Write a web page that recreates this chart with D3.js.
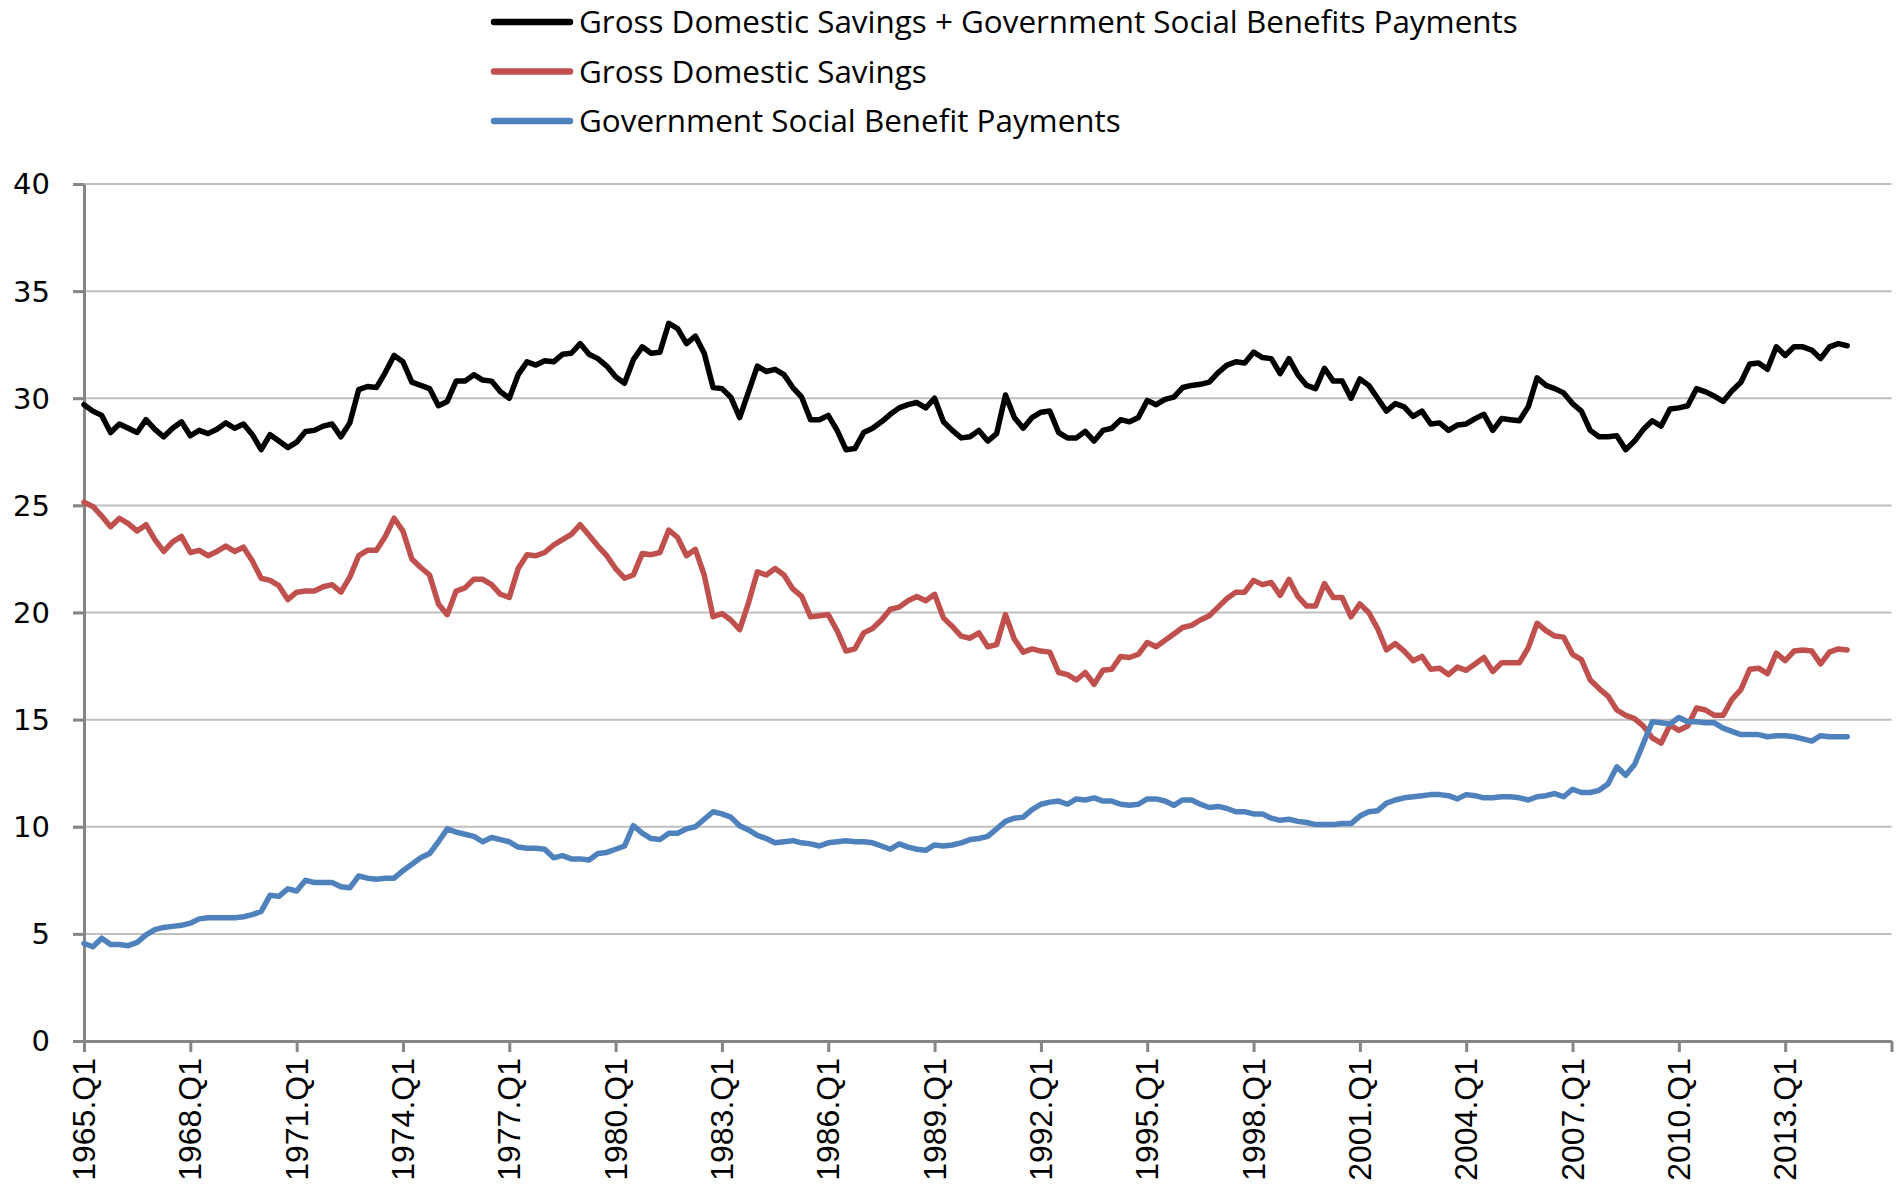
<!DOCTYPE html>
<html lang="en">
<head>
<meta charset="utf-8">
<style>
    body { margin: 0; background: #fff; }
    .grid line { stroke: #bfbfbf; stroke-width: 2; }
    .axis path, .axis line { stroke: #868686; stroke-width: 3; }
    .ylab { font: 29px "DejaVu Sans", sans-serif; fill: #000; }
    .xlab { font: 32px "Liberation Sans", Arial, sans-serif; fill: #000; }
    .legend text { font: 31.4px "Open Sans", sans-serif; fill: #000; }
    .series { fill: none; stroke-width: 5.5; stroke-linejoin: round; stroke-linecap: round; }
</style>
</head>
<body>
<svg width="1900" height="1191"></svg>
<script src="https://d3js.org/d3.v7.min.js"></script>
<script>

// quarterly values, 1965.Q1 .. 2014.Q4 (index 0 = 1965.Q1)
var combined = [
    29.7, 29.4, 29.2, 28.4, 28.8, 28.6, 28.4, 29.0, 28.55, 28.2, 28.6, 28.9,
    28.25, 28.5, 28.35, 28.55, 28.85, 28.6, 28.8, 28.3, 27.6, 28.3, 28.0, 27.7,
    27.95, 28.45, 28.5, 28.7, 28.8, 28.2, 28.85, 30.4, 30.55, 30.5, 31.2, 32.0,
    31.7, 30.75, 30.6, 30.45, 29.65, 29.85, 30.8, 30.8, 31.1, 30.85, 30.8, 30.3,
    30.0, 31.1, 31.7, 31.55, 31.75, 31.7, 32.05, 32.1, 32.55, 32.05, 31.85, 31.5,
    31.0, 30.7, 31.8, 32.4, 32.1, 32.15, 33.5, 33.25, 32.55, 32.9, 32.1, 30.5,
    30.45, 30.05, 29.1, 30.3, 31.5, 31.25, 31.35, 31.1, 30.5, 30.05, 29.0, 29.0,
    29.2, 28.5, 27.6, 27.65, 28.4, 28.6, 28.9, 29.25, 29.55, 29.7, 29.8, 29.55,
    30.0, 28.9, 28.5, 28.15, 28.2, 28.5, 28.0, 28.35, 30.15, 29.1, 28.6, 29.1,
    29.35, 29.4, 28.4, 28.15, 28.15, 28.45, 28.0, 28.5, 28.6, 29.0, 28.9, 29.1,
    29.9, 29.7, 29.95, 30.05, 30.5, 30.6, 30.65, 30.75, 31.2, 31.55, 31.7, 31.65,
    32.15, 31.9, 31.85, 31.15, 31.85, 31.1, 30.6, 30.45, 31.4, 30.8, 30.8, 30.0,
    30.9, 30.6, 30.0, 29.4, 29.75, 29.6, 29.15, 29.4, 28.8, 28.85, 28.5, 28.75,
    28.8, 29.05, 29.25, 28.5, 29.05, 29.0, 28.95, 29.6, 30.95, 30.6, 30.45, 30.25,
    29.75, 29.4, 28.5, 28.2, 28.2, 28.25, 27.6, 28.0, 28.55, 28.95, 28.7, 29.5,
    29.55, 29.65, 30.45, 30.3, 30.1, 29.85, 30.35, 30.75, 31.6, 31.65, 31.35, 32.4,
    32.0, 32.4, 32.4, 32.25, 31.85, 32.4, 32.55, 32.45
];

var savings = [
    25.15, 24.95, 24.5, 24.0, 24.4, 24.15, 23.8, 24.1, 23.4, 22.85, 23.3, 23.55,
    22.8, 22.9, 22.65, 22.85, 23.1, 22.85, 23.05, 22.4, 21.6, 21.5, 21.25, 20.6,
    20.95, 21.0, 21.0, 21.2, 21.3, 20.95, 21.65, 22.65, 22.9, 22.9, 23.55, 24.4,
    23.8, 22.5, 22.1, 21.75, 20.4, 19.9, 21.0, 21.15, 21.55, 21.55, 21.3, 20.85,
    20.7, 22.05, 22.7, 22.65, 22.8, 23.15, 23.4, 23.65, 24.1, 23.6, 23.1, 22.65,
    22.05, 21.6, 21.75, 22.75, 22.7, 22.8, 23.85, 23.5, 22.65, 22.95, 21.75, 19.8,
    19.95, 19.65, 19.2, 20.45, 21.9, 21.75, 22.05, 21.75, 21.1, 20.75, 19.8, 19.85,
    19.9, 19.15, 18.2, 18.3, 19.05, 19.25, 19.65, 20.15, 20.25, 20.55, 20.75, 20.55,
    20.85, 19.75, 19.35, 18.9, 18.8, 19.05, 18.4, 18.5, 19.9, 18.75, 18.15, 18.3,
    18.2, 18.15, 17.2, 17.1, 16.85, 17.2, 16.65, 17.3, 17.35, 17.95, 17.9, 18.05,
    18.6, 18.4, 18.7, 19.0, 19.3, 19.4, 19.65, 19.85, 20.25, 20.65, 20.95, 20.95,
    21.5, 21.3, 21.4, 20.8, 21.55, 20.75, 20.3, 20.3, 21.35, 20.7, 20.7, 19.8,
    20.4, 20.0, 19.25, 18.25, 18.55, 18.2, 17.75, 17.95, 17.35, 17.4, 17.1, 17.45,
    17.3, 17.6, 17.9, 17.25, 17.65, 17.65, 17.65, 18.35, 19.5, 19.15, 18.9, 18.85,
    18.05, 17.8, 16.85, 16.45, 16.1, 15.45, 15.2, 15.05, 14.7, 14.15, 13.9, 14.75,
    14.5, 14.7, 15.55, 15.45, 15.2, 15.2, 15.95, 16.4, 17.35, 17.4, 17.15, 18.1,
    17.75, 18.2, 18.25, 18.2, 17.6, 18.15, 18.3, 18.25
];

var benefits = [
    4.55, 4.4, 4.8, 4.5, 4.5, 4.45, 4.6, 4.95, 5.2, 5.3, 5.35, 5.4,
    5.5, 5.7, 5.75, 5.75, 5.75, 5.75, 5.8, 5.9, 6.05, 6.8, 6.75, 7.1,
    7.0, 7.5, 7.4, 7.4, 7.4, 7.2, 7.15, 7.7, 7.6, 7.55, 7.6, 7.6,
    7.95, 8.25, 8.55, 8.75, 9.3, 9.9, 9.75, 9.65, 9.55, 9.3, 9.5, 9.4,
    9.3, 9.05, 9.0, 9.0, 8.95, 8.55, 8.65, 8.5, 8.5, 8.45, 8.75, 8.8,
    8.95, 9.1, 10.05, 9.7, 9.45, 9.4, 9.7, 9.7, 9.9, 10.0, 10.35, 10.7,
    10.6, 10.45, 10.05, 9.85, 9.6, 9.45, 9.25, 9.3, 9.35, 9.25, 9.2, 9.1,
    9.25, 9.3, 9.35, 9.3, 9.3, 9.25, 9.1, 8.95, 9.2, 9.05, 8.95, 8.9,
    9.15, 9.1, 9.15, 9.25, 9.4, 9.45, 9.55, 9.9, 10.25, 10.4, 10.45, 10.8,
    11.05, 11.15, 11.2, 11.05, 11.3, 11.25, 11.35, 11.2, 11.2, 11.05, 11.0, 11.05,
    11.3, 11.3, 11.2, 11.0, 11.25, 11.25, 11.05, 10.9, 10.95, 10.85, 10.7, 10.7,
    10.6, 10.6, 10.4, 10.3, 10.35, 10.25, 10.2, 10.1, 10.1, 10.1, 10.15, 10.15,
    10.5, 10.7, 10.75, 11.1, 11.25, 11.35, 11.4, 11.45, 11.5, 11.5, 11.45, 11.3,
    11.5, 11.45, 11.35, 11.35, 11.4, 11.4, 11.35, 11.25, 11.4, 11.45, 11.55, 11.4,
    11.75, 11.6, 11.6, 11.7, 12.0, 12.8, 12.4, 12.9, 13.9, 14.9, 14.85, 14.8,
    15.1, 14.9, 14.9, 14.85, 14.85, 14.6, 14.45, 14.3, 14.3, 14.3, 14.2, 14.25,
    14.25, 14.2, 14.1, 14.0, 14.25, 14.2, 14.2, 14.2
];

var tickLabels = ["1965.Q1", "1968.Q1", "1971.Q1", "1974.Q1", "1977.Q1", "1980.Q1", "1983.Q1",
    "1986.Q1", "1989.Q1", "1992.Q1", "1995.Q1", "1998.Q1", "2001.Q1", "2004.Q1",
    "2007.Q1", "2010.Q1", "2013.Q1"];
var yTicks = [0, 5, 10, 15, 20, 25, 30, 35, 40];

var seriesNames = ["Gross Domestic Savings + Government Social Benefits Payments",
    "Gross Domestic Savings", "Government Social Benefit Payments"];
var seriesColors = ["#000000", "#c0504d", "#4f81bd"];

var svg = d3.select("svg");

var x = d3.scaleLinear().domain([0, 204]).range([84, 1891.5]);
var y = d3.scaleLinear().domain([0, 40]).range([1041, 184]);

// gridlines
svg.append("g")
    .attr("class", "grid")
    .selectAll("line")
    .data(yTicks.slice(1))
    .enter().append("line")
    .attr("x1", 73).attr("x2", 1891.5)
    .attr("y1", function (d) { return y(d); })
    .attr("y2", function (d) { return y(d); });

// y axis
var yAxis = svg.append("g")
    .attr("class", "axis")
    .attr("transform", "translate(84,0)")
    .call(d3.axisLeft(y).tickValues(yTicks).tickSize(11).tickSizeOuter(0).tickFormat(""));
yAxis.selectAll(".tick line").attr("stroke", "#868686");

svg.append("g")
    .selectAll("text")
    .data(yTicks)
    .enter().append("text")
    .attr("class", "ylab")
    .attr("x", 50)
    .attr("y", function (d) { return y(d); })
    .attr("dy", "0.36em")
    .attr("text-anchor", "end")
    .text(function (d) { return d; });

// x axis
var xTickVals = d3.range(0, 205, 12);
var xAxis = svg.append("g")
    .attr("class", "axis")
    .attr("transform", "translate(0,1041)")
    .call(d3.axisBottom(x).tickValues(xTickVals).tickSize(11).tickSizeOuter(0).tickFormat(""));
xAxis.selectAll(".tick line").attr("stroke", "#868686");

svg.append("g")
    .selectAll("text")
    .data(tickLabels)
    .enter().append("text")
    .attr("class", "xlab")
    .attr("text-anchor", "end")
    .attr("transform", function (d, i) {
        return "translate(" + (x(i * 12) + 11) + ",1058) rotate(-90)";
    })
    .text(function (d) { return d; });

// lines
var line = d3.line()
    .x(function (d, i) { return x(i); })
    .y(function (d) { return y(d); });

var allSeries = [combined, savings, benefits];

svg.append("g")
    .selectAll("path")
    .data(allSeries)
    .enter().append("path")
    .attr("class", "series")
    .attr("stroke", function (d, i) { return seriesColors[i]; })
    .attr("d", line);

// legend
var legend = svg.append("g").attr("class", "legend");
var lg = legend.selectAll("g")
    .data(seriesNames)
    .enter().append("g")
    .attr("transform", function (d, i) { return "translate(0," + (22 + i * 49.5) + ")"; });
lg.append("line")
    .attr("x1", 494).attr("x2", 570)
    .attr("stroke", function (d, i) { return seriesColors[i]; })
    .attr("stroke-width", 6.5)
    .attr("stroke-linecap", "round");
lg.append("text")
    .attr("x", 579)
    .attr("dy", "0.35em")
    .text(function (d) { return d; });

</script>
</body>
</html>
